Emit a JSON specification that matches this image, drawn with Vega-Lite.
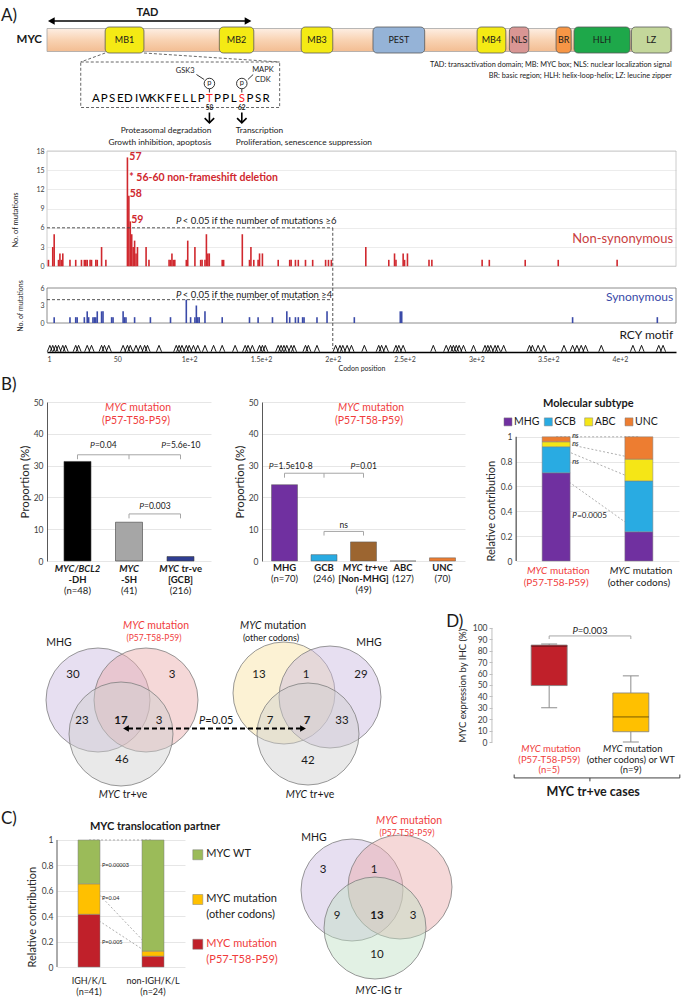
{
"$schema":"https://vega.github.io/schema/vega-lite/v6.json",
"padding":0,
"background":"white",
"spacing":0,
"resolve":{"scale":{"color":"independent"}},
"config":{"font":"Lato","view":{"stroke":null},"axis":{"labelFont":"Lato","titleFont":"Lato","labelColor":"#404040","titleColor":"#262626","labelOverlap":false},"text":{"font":"Lato","color":"#1a1a1a"}},
"data":{"values":[{}]},
"datasets":{
"domains":[{"name":"MB1","start":41.5,"end":68.5},{"name":"MB2","start":121,"end":145},{"name":"MB3","start":178,"end":200},{"name":"PEST","start":228,"end":264},{"name":"MB4","start":300.5,"end":320.5},{"name":"NLS","start":323,"end":336.5},{"name":"BR","start":355.5,"end":366},{"name":"HLH","start":368,"end":407},{"name":"LZ","start":408,"end":435.5}],
"seq":[{"res":44,"aa":"A"},{"res":45,"aa":"P"},{"res":46,"aa":"S"},{"res":47,"aa":"E"},{"res":48,"aa":"D"},{"res":49,"aa":"I"},{"res":50,"aa":"W"},{"res":51,"aa":"K"},{"res":52,"aa":"K"},{"res":53,"aa":"F"},{"res":54,"aa":"E"},{"res":55,"aa":"L"},{"res":56,"aa":"L"},{"res":57,"aa":"P"},{"res":58,"aa":"T"},{"res":59,"aa":"P"},{"res":60,"aa":"P"},{"res":61,"aa":"L"},{"res":62,"aa":"S"},{"res":63,"aa":"P"},{"res":64,"aa":"S"},{"res":65,"aa":"R"}],
"sites":[{"res":58,"effect":"Proteasomal degradation\nGrowth inhibition, apoptosis"},{"res":62,"effect":"Transcription\nProliferation, senescence suppression"}],
"nonsyn":[{"codon":2,"n":1},{"codon":5,"n":3},{"codon":6,"n":5},{"codon":9,"n":1},{"codon":10,"n":2},{"codon":11,"n":1},{"codon":12,"n":2},{"codon":17,"n":1},{"codon":21,"n":1},{"codon":25,"n":1},{"codon":27,"n":1},{"codon":28,"n":1},{"codon":29,"n":1},{"codon":31,"n":1},{"codon":32,"n":1},{"codon":35,"n":1},{"codon":36,"n":1},{"codon":39,"n":3},{"codon":42,"n":1},{"codon":57,"n":17},{"codon":58,"n":11},{"codon":59,"n":7},{"codon":60,"n":5},{"codon":61,"n":3},{"codon":62,"n":4},{"codon":63,"n":2},{"codon":64,"n":3},{"codon":70,"n":3},{"codon":72,"n":1},{"codon":86,"n":1},{"codon":87,"n":1},{"codon":88,"n":2},{"codon":89,"n":1},{"codon":90,"n":1},{"codon":98,"n":1},{"codon":99,"n":4},{"codon":104,"n":3},{"codon":108,"n":1},{"codon":109,"n":1},{"codon":111,"n":1},{"codon":112,"n":5},{"codon":113,"n":2},{"codon":114,"n":2},{"codon":123,"n":1},{"codon":124,"n":1},{"codon":137,"n":5},{"codon":142,"n":1},{"codon":143,"n":3},{"codon":145,"n":1},{"codon":148,"n":1},{"codon":149,"n":2},{"codon":151,"n":2},{"codon":162,"n":1},{"codon":170,"n":1},{"codon":171,"n":1},{"codon":174,"n":1},{"codon":176,"n":1},{"codon":181,"n":1},{"codon":186,"n":1},{"codon":195,"n":1},{"codon":197,"n":1},{"codon":199,"n":1},{"codon":223,"n":3},{"codon":239,"n":1},{"codon":243,"n":2},{"codon":244,"n":1},{"codon":249,"n":2},{"codon":250,"n":1},{"codon":252,"n":2},{"codon":267,"n":1},{"codon":269,"n":1},{"codon":304,"n":1},{"codon":309,"n":1},{"codon":334,"n":1},{"codon":357,"n":1},{"codon":398,"n":1}],
"syn":[{"codon":6,"n":1},{"codon":17,"n":1},{"codon":21,"n":1},{"codon":22,"n":1},{"codon":27,"n":1},{"codon":29,"n":2},{"codon":30,"n":1},{"codon":33,"n":1},{"codon":34,"n":1},{"codon":35,"n":1},{"codon":36,"n":2},{"codon":39,"n":2},{"codon":40,"n":2},{"codon":46,"n":1},{"codon":47,"n":1},{"codon":54,"n":2},{"codon":55,"n":1},{"codon":56,"n":1},{"codon":62,"n":1},{"codon":73,"n":1},{"codon":87,"n":1},{"codon":98,"n":4},{"codon":101,"n":1},{"codon":104,"n":1},{"codon":105,"n":3},{"codon":106,"n":1},{"codon":107,"n":1},{"codon":111,"n":2},{"codon":123,"n":1},{"codon":142,"n":1},{"codon":148,"n":1},{"codon":158,"n":1},{"codon":168,"n":2},{"codon":170,"n":1},{"codon":174,"n":1},{"codon":176,"n":1},{"codon":179,"n":1},{"codon":180,"n":1},{"codon":189,"n":1},{"codon":196,"n":2},{"codon":215,"n":1},{"codon":247,"n":2},{"codon":248,"n":2},{"codon":367,"n":1},{"codon":426,"n":1}],
"rcy":[{"codon":3},{"codon":5},{"codon":7},{"codon":9},{"codon":12},{"codon":14},{"codon":21},{"codon":23},{"codon":29},{"codon":32},{"codon":39},{"codon":41},{"codon":44},{"codon":54},{"codon":57},{"codon":59},{"codon":63},{"codon":66},{"codon":69},{"codon":71},{"codon":79},{"codon":91},{"codon":93},{"codon":95},{"codon":98},{"codon":100},{"codon":103},{"codon":106},{"codon":111},{"codon":117},{"codon":123},{"codon":132},{"codon":139},{"codon":141},{"codon":144},{"codon":149},{"codon":151},{"codon":153},{"codon":162},{"codon":164},{"codon":166},{"codon":168},{"codon":171},{"codon":173},{"codon":181},{"codon":183},{"codon":189},{"codon":202},{"codon":205},{"codon":207},{"codon":210},{"codon":213},{"codon":222},{"codon":232},{"codon":234},{"codon":237},{"codon":244},{"codon":246},{"codon":249},{"codon":270},{"codon":279},{"codon":282},{"codon":284},{"codon":286},{"codon":288},{"codon":291},{"codon":298},{"codon":306},{"codon":308},{"codon":310},{"codon":313},{"codon":315},{"codon":319},{"codon":337},{"codon":339},{"codon":343},{"codon":347},{"codon":361},{"codon":367},{"codon":370},{"codon":373},{"codon":376},{"codon":387},{"codon":409},{"codon":415},{"codon":427},{"codon":430}],
"b1":[{"group":"DH","pct":31.3,"l1":"MYC/BCL2","l2":"-DH","l3":"(n=48)"},{"group":"SH","pct":12.2,"l1":"MYC","l2":"-SH","l3":"(41)"},{"group":"trve","pct":1.4,"l1":"","l2":"[GCB]","l3":"(216)"}],
"b2":[{"group":"MHG","pct":24,"l1":"MHG","l2":"(n=70)","l3":""},{"group":"GCB","pct":2,"l1":"GCB","l2":"(246)","l3":""},{"group":"trpos","pct":6,"l1":"","l2":"[Non-MHG]","l3":"(49)"},{"group":"ABC","pct":0,"l1":"ABC","l2":"(127)","l3":""},{"group":"UNC","pct":1,"l1":"UNC","l2":"(70)","l3":""}],
"subtypes":[{"sub":"MHG"},{"sub":"GCB"},{"sub":"ABC"},{"sub":"UNC"}],
"b3":[{"mut":"P57","sub":"MHG","y0":0,"y1":0.71},{"mut":"P57","sub":"GCB","y0":0.71,"y1":0.92},{"mut":"P57","sub":"ABC","y0":0.92,"y1":0.96},{"mut":"P57","sub":"UNC","y0":0.96,"y1":1},{"mut":"other","sub":"MHG","y0":0,"y1":0.235},{"mut":"other","sub":"GCB","y0":0.235,"y1":0.645},{"mut":"other","sub":"ABC","y0":0.645,"y1":0.82},{"mut":"other","sub":"UNC","y0":0.82,"y1":1}],
"b3conn":[{"from":0.71,"to":0.235},{"from":0.92,"to":0.645},{"from":0.96,"to":0.82},{"from":1,"to":1}],
"muts":[{"mut":"P57","l2":"(P57-T58-P59)"},{"mut":"other","l2":"(other codons)"}],
"vsets":[{"venn":"V1","set":"MHG"},{"venn":"V1","set":"MYC mutation (P57-T58-P59)"},{"venn":"V1","set":"MYC tr+ve"},{"venn":"V2","set":"MYC mutation (other codons)"},{"venn":"V2","set":"MHG"},{"venn":"V2","set":"MYC tr+ve"},{"venn":"V3","set":"MHG"},{"venn":"V3","set":"MYC mutation (P57-T58-P59)"},{"venn":"V3","set":"MYC-IG tr"}],
"vennAB":[{"venn":"V1","region":"MHG only","n":30},{"venn":"V1","region":"mutation only","n":3},{"venn":"V1","region":"MHG & tr+ve","n":23},{"venn":"V1","region":"all three","n":17},{"venn":"V1","region":"mutation & tr+ve","n":3},{"venn":"V1","region":"tr+ve only","n":46},{"venn":"V2","region":"mutation only","n":13},{"venn":"V2","region":"mutation & MHG","n":1},{"venn":"V2","region":"MHG only","n":29},{"venn":"V2","region":"mutation & tr+ve","n":7},{"venn":"V2","region":"all three","n":7},{"venn":"V2","region":"MHG & tr+ve","n":33},{"venn":"V2","region":"tr+ve only","n":42}],
"venn3":[{"region":"MHG only","n":3},{"region":"MHG & mutation","n":1},{"region":"MHG & IG tr","n":9},{"region":"all three","n":13},{"region":"mutation & IG tr","n":3},{"region":"IG tr only","n":10}],
"dbox":[{"grp":"P57","min":30,"q1":49.5,"med":84,"q3":85,"max":86,"l2":"(P57-T58-P59)","l3":"(n=5)"},{"grp":"other","min":0,"q1":9,"med":22,"q3":43,"max":58,"l2":"(other codons) or WT","l3":"(n=9)"}],
"cbars":[{"partner":"IGH","item":"P57","y0":0,"y1":0.415},{"partner":"IGH","item":"other","y0":0.415,"y1":0.655},{"partner":"IGH","item":"WT","y0":0.655,"y1":1},{"partner":"non","item":"P57","y0":0,"y1":0.085},{"partner":"non","item":"other","y0":0.085,"y1":0.125},{"partner":"non","item":"WT","y0":0.125,"y1":1}],
"cconn":[{"from":1,"to":1},{"from":0.655,"to":0.125},{"from":0.415,"to":0.085}],
"cpart":[{"partner":"IGH","l1":"IGH/K/L","l2":"(n=41)"},{"partner":"non","l1":"non-IGH/K/L","l2":"(n=24)"}],
"clegend":[{"item":"WT","label":"MYC WT"},{"item":"other","label":"MYC mutation\n(other codons)"},{"item":"P57","label":"MYC mutation\n(P57-T58-P59)"}]
},
"vconcat":[
{"vconcat":[
{"width":629,"height":151,"resolve":{"scale":{"x":"independent"}},"layer":[
 {"layer":[
  {"mark":{"type":"text","text":"A)","fontSize":17,"align":"left","baseline":"middle"},"encoding":{"x":{"datum":-31,"scale":{"domain":[1,439],"nice":false,"zero":false},"axis":null},"y":{"datum":1.6,"scale":{"domain":[0,15.1],"nice":false,"zero":false,"reverse":true},"axis":null}}},
  {"mark":{"type":"rule","strokeWidth":1.6,"color":"#000"},"encoding":{"x":{"datum":5,"scale":{"domain":[1,439],"nice":false,"zero":false},"axis":null},"x2":{"datum":140},"y":{"datum":2.1,"scale":{"domain":[0,15.1],"nice":false,"zero":false,"reverse":true},"axis":null}}},
  {"mark":{"type":"point","shape":"triangle-left","size":60,"filled":true,"color":"#000","opacity":1},"encoding":{"x":{"datum":4,"scale":{"domain":[1,439],"nice":false,"zero":false},"axis":null},"y":{"datum":2.1,"scale":{"domain":[0,15.1],"nice":false,"zero":false,"reverse":true},"axis":null}}},
  {"mark":{"type":"point","shape":"triangle-right","size":60,"filled":true,"color":"#000","opacity":1},"encoding":{"x":{"datum":141,"scale":{"domain":[1,439],"nice":false,"zero":false},"axis":null},"y":{"datum":2.1,"scale":{"domain":[0,15.1],"nice":false,"zero":false,"reverse":true},"axis":null}}},
  {"mark":{"type":"text","text":"TAD","fontSize":11,"fontWeight":"bold","baseline":"middle"},"encoding":{"x":{"datum":71,"scale":{"domain":[1,439],"nice":false,"zero":false},"axis":null},"y":{"datum":1.25,"scale":{"domain":[0,15.1],"nice":false,"zero":false,"reverse":true},"axis":null}}},
  {"mark":{"type":"rect","stroke":"#a6a6a6","strokeWidth":0.8,"fill":{"gradient":"linear","x1":0,"y1":0,"x2":0,"y2":1,"stops":[{"offset":0,"color":"#fdeee3"},{"offset":0.5,"color":"#f9d3b3"},{"offset":1,"color":"#f3bd92"}]}},"encoding":{"x":{"datum":1,"scale":{"domain":[1,439],"nice":false,"zero":false},"axis":null},"x2":{"datum":436},"y":{"datum":2.85,"scale":{"domain":[0,15.1],"nice":false,"zero":false,"reverse":true},"axis":null},"y2":{"datum":5.15}}},
  {"data":{"name":"domains"},"mark":{"type":"rect","cornerRadius":4,"stroke":"#595959","strokeWidth":0.8},"encoding":{"x":{"field":"start","type":"quantitative","scale":{"domain":[1,439],"nice":false,"zero":false},"axis":null},"x2":{"field":"end"},"y":{"datum":2.7,"scale":{"domain":[0,15.1],"nice":false,"zero":false,"reverse":true},"axis":null},"y2":{"datum":5.3},"color":{"field":"name","type":"nominal","scale":{"domain":["MB1","MB2","MB3","PEST","MB4","NLS","BR","HLH","LZ"],"range":["#f4ea14","#f4ea14","#f4ea14","#95b3d7","#f4ea14","#d99694","#f79646","#1ea84a","#c4d79b"]},"legend":null}}},
  {"data":{"name":"domains"},"transform":[{"fold":["start","end"],"as":["k","v"]},{"aggregate":[{"op":"mean","field":"v","as":"mid"}],"groupby":["name"]}],"mark":{"type":"text","fontSize":9,"baseline":"middle","color":"#1a1a1a"},"encoding":{"x":{"field":"mid","type":"quantitative","scale":{"domain":[1,439],"nice":false,"zero":false},"axis":null},"y":{"datum":4.0,"scale":{"domain":[0,15.1],"nice":false,"zero":false,"reverse":true},"axis":null},"text":{"field":"name"}}},
  {"mark":{"type":"text","text":"MYC","fontSize":11.5,"fontWeight":"bold","align":"right","baseline":"middle"},"encoding":{"x":{"datum":-2.5,"scale":{"domain":[1,439],"nice":false,"zero":false},"axis":null},"y":{"datum":4.0,"scale":{"domain":[0,15.1],"nice":false,"zero":false,"reverse":true},"axis":null}}},
  {"mark":{"type":"text","text":"TAD:  transactivation domain;  MB: MYC box;  NLS: nuclear localization signal","fontSize":7.3,"align":"right","baseline":"middle"},"encoding":{"x":{"datum":436,"scale":{"domain":[1,439],"nice":false,"zero":false},"axis":null},"y":{"datum":6.45,"scale":{"domain":[0,15.1],"nice":false,"zero":false,"reverse":true},"axis":null}}},
  {"mark":{"type":"text","text":"BR: basic region;  HLH: helix-loop-helix;  LZ: leucine zipper","fontSize":7.3,"align":"right","baseline":"middle"},"encoding":{"x":{"datum":436,"scale":{"domain":[1,439],"nice":false,"zero":false},"axis":null},"y":{"datum":7.6,"scale":{"domain":[0,15.1],"nice":false,"zero":false,"reverse":true},"axis":null}}},
  {"mark":{"type":"rule","strokeDash":[3,2],"strokeWidth":0.8,"color":"#404040"},"encoding":{"x":{"datum":41.5,"scale":{"domain":[1,439],"nice":false,"zero":false},"axis":null},"x2":{"datum":24.5},"y":{"datum":5.3,"scale":{"domain":[0,15.1],"nice":false,"zero":false,"reverse":true},"axis":null},"y2":{"datum":6.2}}},
  {"mark":{"type":"rule","strokeDash":[3,2],"strokeWidth":0.8,"color":"#404040"},"encoding":{"x":{"datum":68.5,"scale":{"domain":[1,439],"nice":false,"zero":false},"axis":null},"x2":{"datum":163},"y":{"datum":5.3,"scale":{"domain":[0,15.1],"nice":false,"zero":false,"reverse":true},"axis":null},"y2":{"datum":6.2}}},
  {"mark":{"type":"rect","fillOpacity":0,"stroke":"#404040","strokeDash":[3,2],"strokeWidth":0.8},"encoding":{"x":{"datum":24.5,"scale":{"domain":[1,439],"nice":false,"zero":false},"axis":null},"x2":{"datum":163},"y":{"datum":6.2,"scale":{"domain":[0,15.1],"nice":false,"zero":false,"reverse":true},"axis":null},"y2":{"datum":10.75}}}
 ]},
 {"layer":[
  {"data":{"name":"seq"},"mark":{"type":"text","fontSize":11.5,"baseline":"middle"},"encoding":{"x":{"field":"res","type":"quantitative","scale":{"domain":[37.95,115.6],"nice":false,"zero":false},"axis":null},"y":{"datum":9.9,"scale":{"domain":[0,15.1],"nice":false,"zero":false,"reverse":true},"axis":null},"text":{"field":"aa"},"color":{"condition":{"test":"datum.res==58||datum.res==62","value":"#ff1a1a"},"value":"#000000"}}},
  {"data":{"name":"sites"},"mark":{"type":"point","shape":"circle","size":110,"filled":true,"fill":"white","stroke":"#000","strokeWidth":0.8,"opacity":1},"encoding":{"x":{"field":"res","type":"quantitative","scale":{"domain":[37.95,115.6],"nice":false,"zero":false},"axis":null},"y":{"datum":8.35,"scale":{"domain":[0,15.1],"nice":false,"zero":false,"reverse":true},"axis":null}}},
  {"data":{"name":"sites"},"mark":{"type":"text","text":"p","fontSize":7.5,"baseline":"middle","dy":-0.5},"encoding":{"x":{"field":"res","type":"quantitative","scale":{"domain":[37.95,115.6],"nice":false,"zero":false},"axis":null},"y":{"datum":8.35,"scale":{"domain":[0,15.1],"nice":false,"zero":false,"reverse":true},"axis":null}}},
  {"data":{"name":"sites"},"mark":{"type":"rule","strokeWidth":0.8,"color":"#000"},"encoding":{"x":{"field":"res","type":"quantitative","scale":{"domain":[37.95,115.6],"nice":false,"zero":false},"axis":null},"y":{"datum":8.9,"scale":{"domain":[0,15.1],"nice":false,"zero":false,"reverse":true},"axis":null},"y2":{"datum":9.25}}},
  {"data":{"name":"sites"},"mark":{"type":"text","fontSize":6.5,"fontWeight":"bold","baseline":"middle"},"encoding":{"x":{"field":"res","type":"quantitative","scale":{"domain":[37.95,115.6],"nice":false,"zero":false},"axis":null},"y":{"datum":10.8,"scale":{"domain":[0,15.1],"nice":false,"zero":false,"reverse":true},"axis":null},"text":{"field":"res"}}},
  {"mark":{"type":"text","text":"GSK3","fontSize":7.5,"baseline":"middle"},"encoding":{"x":{"datum":55,"scale":{"domain":[37.95,115.6],"nice":false,"zero":false},"axis":null},"y":{"datum":7.05,"scale":{"domain":[0,15.1],"nice":false,"zero":false,"reverse":true},"axis":null}}},
  {"mark":{"type":"rule","strokeWidth":0.8,"color":"#000"},"encoding":{"x":{"datum":56.4,"scale":{"domain":[37.95,115.6],"nice":false,"zero":false},"axis":null},"x2":{"datum":57.35},"y":{"datum":7.45,"scale":{"domain":[0,15.1],"nice":false,"zero":false,"reverse":true},"axis":null},"y2":{"datum":7.95}}},
  {"mark":{"type":"text","text":"MAPK","fontSize":7.5,"baseline":"middle"},"encoding":{"x":{"datum":64.6,"scale":{"domain":[37.95,115.6],"nice":false,"zero":false},"axis":null},"y":{"datum":7.0,"scale":{"domain":[0,15.1],"nice":false,"zero":false,"reverse":true},"axis":null}}},
  {"mark":{"type":"text","text":"CDK","fontSize":7.5,"baseline":"middle"},"encoding":{"x":{"datum":64.6,"scale":{"domain":[37.95,115.6],"nice":false,"zero":false},"axis":null},"y":{"datum":8.0,"scale":{"domain":[0,15.1],"nice":false,"zero":false,"reverse":true},"axis":null}}},
  {"mark":{"type":"rule","strokeWidth":0.8,"color":"#000"},"encoding":{"x":{"datum":63.4,"scale":{"domain":[37.95,115.6],"nice":false,"zero":false},"axis":null},"x2":{"datum":62.75},"y":{"datum":7.45,"scale":{"domain":[0,15.1],"nice":false,"zero":false,"reverse":true},"axis":null},"y2":{"datum":7.95}}},
  {"data":{"name":"sites"},"mark":{"type":"rule","strokeWidth":1.6,"color":"#000"},"encoding":{"x":{"field":"res","type":"quantitative","scale":{"domain":[37.95,115.6],"nice":false,"zero":false},"axis":null},"y":{"datum":11.25,"scale":{"domain":[0,15.1],"nice":false,"zero":false,"reverse":true},"axis":null},"y2":{"datum":12.3}}},
  {"data":{"name":"sites"},"mark":{"type":"point","shape":"M-1,-0.5L0,0.5L1,-0.5","size":90,"filled":false,"strokeWidth":1.6,"color":"#000","opacity":1},"encoding":{"x":{"field":"res","type":"quantitative","scale":{"domain":[37.95,115.6],"nice":false,"zero":false},"axis":null},"y":{"datum":12.05,"scale":{"domain":[0,15.1],"nice":false,"zero":false,"reverse":true},"axis":null}}},
  {"data":{"name":"sites"},"transform":[{"filter":"datum.res==58"}],"mark":{"type":"text","fontSize":8.3,"align":"right","baseline":"top","lineBreak":"\n","lineHeight":11.5,"dx":2},"encoding":{"x":{"field":"res","type":"quantitative","scale":{"domain":[37.95,115.6],"nice":false,"zero":false},"axis":null},"y":{"datum":12.6,"scale":{"domain":[0,15.1],"nice":false,"zero":false,"reverse":true},"axis":null},"text":{"field":"effect"}}},
  {"data":{"name":"sites"},"transform":[{"filter":"datum.res==62"}],"mark":{"type":"text","fontSize":8.3,"align":"left","baseline":"top","lineBreak":"\n","lineHeight":11.5,"dx":-6},"encoding":{"x":{"field":"res","type":"quantitative","scale":{"domain":[37.95,115.6],"nice":false,"zero":false},"axis":null},"y":{"datum":12.6,"scale":{"domain":[0,15.1],"nice":false,"zero":false,"reverse":true},"axis":null},"text":{"field":"effect"}}}
 ]}
]},
{"width":629,"height":137,"layer":[
 {"mark":{"type":"rect","fillOpacity":0,"stroke":"#bfbfbf","strokeWidth":0.8},"encoding":{"x":{"datum":1,"scale":{"domain":[1,439],"nice":false,"zero":false},"axis":null},"x2":{"datum":439},"y":{"datum":0,"scale":{"domain":[-3.4,18],"nice":false,"zero":false},"axis":{"values":[0,3,6,9,12,15,18],"format":"~g","tickCount":30,"labelOverlap":false,"grid":true,"gridColor":"#ececec","domain":false,"ticks":false,"labelFontSize":7,"labelPadding":3,"title":"No. of mutations","titleFontSize":7.5,"titleFontWeight":"normal","titlePadding":16}},"y2":{"datum":18}}},
 {"data":{"name":"nonsyn"},"mark":{"type":"rule","strokeWidth":1.6,"color":"#d0282e"},"encoding":{"x":{"field":"codon","type":"quantitative","scale":{"domain":[1,439],"nice":false,"zero":false},"axis":null},"y":{"field":"n","type":"quantitative","scale":{"domain":[-3.4,18],"nice":false,"zero":false}},"y2":{"datum":0}}},
 {"mark":{"type":"rule","strokeDash":[3,2],"strokeWidth":0.9,"color":"#404040"},"encoding":{"x":{"datum":1,"scale":{"domain":[1,439],"nice":false,"zero":false},"axis":null},"x2":{"datum":200},"y":{"datum":6,"scale":{"domain":[-3.4,18],"nice":false,"zero":false}}}},
 {"mark":{"type":"rule","strokeDash":[3,2],"strokeWidth":0.9,"color":"#404040"},"encoding":{"x":{"datum":200,"scale":{"domain":[1,439],"nice":false,"zero":false},"axis":null},"y":{"datum":6,"scale":{"domain":[-3.4,18],"nice":false,"zero":false}},"y2":{"datum":-3.4}}},
 {"mark":{"type":"text","text":"P","fontSize":9.5,"fontStyle":"italic","align":"right","baseline":"middle"},"encoding":{"x":{"datum":94.5,"scale":{"domain":[1,439],"nice":false,"zero":false},"axis":null},"y":{"datum":7.0,"scale":{"domain":[-3.4,18],"nice":false,"zero":false}}}},
 {"mark":{"type":"text","text":"< 0.05 if the number of mutations ≥6","fontSize":9.5,"align":"left","baseline":"middle"},"encoding":{"x":{"datum":95.5,"scale":{"domain":[1,439],"nice":false,"zero":false},"axis":null},"y":{"datum":7.0,"scale":{"domain":[-3.4,18],"nice":false,"zero":false}}}},
 {"mark":{"type":"text","text":"57","fontSize":10.5,"fontWeight":"bold","color":"#d0282e","align":"left","baseline":"middle"},"encoding":{"x":{"datum":58.3,"scale":{"domain":[1,439],"nice":false,"zero":false},"axis":null},"y":{"datum":17.1,"scale":{"domain":[-3.4,18],"nice":false,"zero":false}}}},
 {"mark":{"type":"text","text":"* 56-60 non-frameshift deletion","fontSize":10.5,"fontWeight":"bold","color":"#d0282e","align":"left","baseline":"middle"},"encoding":{"x":{"datum":58.3,"scale":{"domain":[1,439],"nice":false,"zero":false},"axis":null},"y":{"datum":13.8,"scale":{"domain":[-3.4,18],"nice":false,"zero":false}}}},
 {"mark":{"type":"text","text":"58","fontSize":10.5,"fontWeight":"bold","color":"#d0282e","align":"left","baseline":"middle"},"encoding":{"x":{"datum":58.6,"scale":{"domain":[1,439],"nice":false,"zero":false},"axis":null},"y":{"datum":11.3,"scale":{"domain":[-3.4,18],"nice":false,"zero":false}}}},
 {"mark":{"type":"text","text":"59","fontSize":10.5,"fontWeight":"bold","color":"#d0282e","align":"left","baseline":"middle"},"encoding":{"x":{"datum":59.6,"scale":{"domain":[1,439],"nice":false,"zero":false},"axis":null},"y":{"datum":7.3,"scale":{"domain":[-3.4,18],"nice":false,"zero":false}}}},
 {"mark":{"type":"text","text":"Non-synonymous","fontSize":13,"color":"#c9413f","align":"right","baseline":"middle"},"encoding":{"x":{"datum":437,"scale":{"domain":[1,439],"nice":false,"zero":false},"axis":null},"y":{"datum":4.2,"scale":{"domain":[-3.4,18],"nice":false,"zero":false}}}}
]},
{"width":629,"height":35,"layer":[
 {"mark":{"type":"rect","fillOpacity":0,"stroke":"#7f7f7f","strokeWidth":0.9},"encoding":{"x":{"datum":1,"scale":{"domain":[1,439],"nice":false,"zero":false},"axis":null},"x2":{"datum":439},"y":{"datum":0,"scale":{"domain":[0,6],"nice":false,"zero":false},"axis":{"values":[0,3,6],"format":"~g","tickCount":30,"labelOverlap":false,"grid":false,"domain":false,"ticks":false,"labelFontSize":7,"labelPadding":3,"title":"No. of mutations","titleFontSize":7,"titleFontWeight":"normal","titlePadding":16}},"y2":{"datum":6}}},
 {"data":{"name":"syn"},"mark":{"type":"rule","strokeWidth":1.6,"color":"#3a4aa8"},"encoding":{"x":{"field":"codon","type":"quantitative","scale":{"domain":[1,439],"nice":false,"zero":false},"axis":null},"y":{"field":"n","type":"quantitative","scale":{"domain":[0,6],"nice":false,"zero":false}},"y2":{"datum":0}}},
 {"mark":{"type":"rule","strokeDash":[3,2],"strokeWidth":0.9,"color":"#404040"},"encoding":{"x":{"datum":1,"scale":{"domain":[1,439],"nice":false,"zero":false},"axis":null},"x2":{"datum":200},"y":{"datum":4,"scale":{"domain":[0,6],"nice":false,"zero":false}}}},
 {"mark":{"type":"rule","strokeDash":[3,2],"strokeWidth":0.9,"color":"#404040"},"encoding":{"x":{"datum":200,"scale":{"domain":[1,439],"nice":false,"zero":false},"axis":null},"y":{"datum":6,"scale":{"domain":[0,6],"nice":false,"zero":false}},"y2":{"datum":0}}},
 {"mark":{"type":"text","text":"P","fontSize":9.5,"fontStyle":"italic","align":"right","baseline":"middle"},"encoding":{"x":{"datum":94.5,"scale":{"domain":[1,439],"nice":false,"zero":false},"axis":null},"y":{"datum":4.85,"scale":{"domain":[0,6],"nice":false,"zero":false}}}},
 {"mark":{"type":"text","text":"< 0.05  if the number of mutation ≥4","fontSize":9.5,"align":"left","baseline":"middle"},"encoding":{"x":{"datum":95.5,"scale":{"domain":[1,439],"nice":false,"zero":false},"axis":null},"y":{"datum":4.85,"scale":{"domain":[0,6],"nice":false,"zero":false}}}},
 {"mark":{"type":"text","text":"Synonymous","fontSize":12,"color":"#3a4aa8","align":"right","baseline":"middle"},"encoding":{"x":{"datum":437,"scale":{"domain":[1,439],"nice":false,"zero":false},"axis":null},"y":{"datum":4.5,"scale":{"domain":[0,6],"nice":false,"zero":false}}}}
]},
{"width":629,"height":29,"layer":[
 {"data":{"name":"rcy"},"mark":{"type":"point","shape":"M-0.8,1L0,-1L0.8,1","size":40,"filled":false,"color":"#000","strokeWidth":0.9,"opacity":1},"encoding":{"x":{"field":"codon","type":"quantitative","scale":{"domain":[1,439],"nice":false,"zero":false},"axis":{"values":[1,50,100,150,200,250,300,350,400],"format":"~g","tickCount":30,"labelOverlap":false,"domain":true,"domainColor":"#000","domainWidth":1.5,"ticks":false,"grid":false,"labelFontSize":7,"labelPadding":3,"title":"Codon position","titleFontSize":7,"titleFontWeight":"normal","titlePadding":2}},"y":{"datum":0.12,"scale":{"domain":[0,1],"nice":false,"zero":false},"axis":null}}},
 {"mark":{"type":"text","text":"RCY motif","fontSize":12,"align":"right","baseline":"middle"},"encoding":{"x":{"datum":437,"scale":{"domain":[1,439],"nice":false,"zero":false}},"y":{"datum":0.6,"scale":{"domain":[0,1],"nice":false,"zero":false},"axis":null}}},
 {"mark":{"type":"rule","strokeDash":[3,2],"strokeWidth":0.9,"color":"#404040"},"encoding":{"x":{"datum":200,"scale":{"domain":[1,439],"nice":false,"zero":false}},"y":{"datum":1,"scale":{"domain":[0,1],"nice":false,"zero":false},"axis":null},"y2":{"datum":0.1}}}
]},
{"width":629,"height":45.5,"mark":{"type":"text","text":"B)","fontSize":17,"align":"left","baseline":"middle"},"encoding":{"x":{"datum":-0.073,"scale":{"domain":[0,1],"nice":false,"zero":false},"axis":null},"y":{"datum":0.275,"scale":{"domain":[0,1],"nice":false,"zero":false},"axis":null}}}
],"spacing":0,"bounds":"flush","resolve":{"scale":{"color":"independent"}}},
{"hconcat":[
  {"width":164,"height":159,"layer":[
   {"mark":{"type":"text","text":"A)","fontSize":17,"align":"left","baseline":"middle","opacity":0,"dx":-76.5},"encoding":{"x":{"datum":"DH","type":"nominal","scale":{"type":"point","padding":0.592,"domain":["DH","SH","trve"]},"axis":null},"y":{"datum":25,"scale":{"domain":[0,50],"nice":false}}}},
   {"data":{"name":"b1"},"mark":{"type":"bar","width":27,"stroke":"#404040","strokeWidth":0.6},"encoding":{"x":{"field":"group","type":"nominal","scale":{"type":"point","padding":0.592,"domain":["DH","SH","trve"]},"axis":null},"y":{"field":"pct","type":"quantitative","scale":{"domain":[0,50],"nice":false},"axis":{"values":[0,10,20,30,40,50],"format":"~g","tickCount":30,"labelOverlap":false,"grid":true,"gridColor":"#e6e6e6","domain":true,"domainColor":"#595959","ticks":false,"labelFontSize":8.5,"labelPadding":4,"title":"Proportion (%)","titleFontSize":11.5,"titleFontWeight":"normal","titlePadding":3}},"color":{"field":"group","type":"nominal","scale":{"domain":["DH","SH","trve"],"range":["#000000","#a6a6a6","#2f3d92"]},"legend":null}}},
   {"mark":{"type":"rule","color":"#a6a6a6"},"encoding":{"x":{"datum":"DH","type":"nominal","scale":{"type":"point","padding":0.592,"domain":["DH","SH","trve"]},"axis":null},"x2":{"datum":"trve"},"y":{"datum":33.4,"scale":{"domain":[0,50],"nice":false}}}},
   {"data":{"name":"b1"},"mark":{"type":"rule","color":"#a6a6a6"},"encoding":{"x":{"field":"group","type":"nominal","scale":{"type":"point","padding":0.592,"domain":["DH","SH","trve"]},"axis":null},"y":{"datum":33.4,"scale":{"domain":[0,50],"nice":false}},"y2":{"datum":32.0}}},
   {"mark":{"type":"rule","color":"#a6a6a6"},"encoding":{"x":{"datum":"SH","type":"nominal","scale":{"type":"point","padding":0.592,"domain":["DH","SH","trve"]},"axis":null},"x2":{"datum":"trve"},"y":{"datum":14.8,"scale":{"domain":[0,50],"nice":false}}}},
   {"data":{"name":"b1"},"transform":[{"filter":"datum.group!='DH'"}],"mark":{"type":"rule","color":"#a6a6a6"},"encoding":{"x":{"field":"group","type":"nominal","scale":{"type":"point","padding":0.592,"domain":["DH","SH","trve"]},"axis":null},"y":{"datum":14.8,"scale":{"domain":[0,50],"nice":false}},"y2":{"datum":13.4}}},
   {"mark":{"type":"text","text":"P","fontSize":8.5,"fontStyle":"italic","align":"right","baseline":"middle","dx":17.4},"encoding":{"x":{"datum":"DH","type":"nominal","scale":{"type":"point","padding":0.592,"domain":["DH","SH","trve"]},"axis":null},"y":{"datum":36.4,"scale":{"domain":[0,50],"nice":false}}}},
   {"mark":{"type":"text","text":"=0.04","fontSize":8.5,"align":"left","baseline":"middle","dx":17.4},"encoding":{"x":{"datum":"DH","type":"nominal","scale":{"type":"point","padding":0.592,"domain":["DH","SH","trve"]},"axis":null},"y":{"datum":36.4,"scale":{"domain":[0,50],"nice":false}}}},
   {"mark":{"type":"text","text":"P","fontSize":8.5,"fontStyle":"italic","align":"right","baseline":"middle","dx":-14.5},"encoding":{"x":{"datum":"trve","type":"nominal","scale":{"type":"point","padding":0.592,"domain":["DH","SH","trve"]},"axis":null},"y":{"datum":36.4,"scale":{"domain":[0,50],"nice":false}}}},
   {"mark":{"type":"text","text":"=5.6e-10","fontSize":8.5,"align":"left","baseline":"middle","dx":-14.5},"encoding":{"x":{"datum":"trve","type":"nominal","scale":{"type":"point","padding":0.592,"domain":["DH","SH","trve"]},"axis":null},"y":{"datum":36.4,"scale":{"domain":[0,50],"nice":false}}}},
   {"mark":{"type":"text","text":"P","fontSize":8.5,"fontStyle":"italic","align":"right","baseline":"middle","dx":15},"encoding":{"x":{"datum":"SH","type":"nominal","scale":{"type":"point","padding":0.592,"domain":["DH","SH","trve"]},"axis":null},"y":{"datum":17.2,"scale":{"domain":[0,50],"nice":false}}}},
   {"mark":{"type":"text","text":"=0.003","fontSize":8.5,"align":"left","baseline":"middle","dx":15},"encoding":{"x":{"datum":"SH","type":"nominal","scale":{"type":"point","padding":0.592,"domain":["DH","SH","trve"]},"axis":null},"y":{"datum":17.2,"scale":{"domain":[0,50],"nice":false}}}},
   {"mark":{"type":"text","text":"MYC","fontSize":10.5,"fontStyle":"italic","color":"#f03c3c","align":"right","baseline":"middle","dx":-2.5},"encoding":{"x":{"datum":"SH","type":"nominal","scale":{"type":"point","padding":0.592,"domain":["DH","SH","trve"]},"axis":null},"y":{"datum":48.2,"scale":{"domain":[0,50],"nice":false}}}},
   {"mark":{"type":"text","text":"mutation","fontSize":10.5,"color":"#f03c3c","align":"left","baseline":"middle","dx":0.3},"encoding":{"x":{"datum":"SH","type":"nominal","scale":{"type":"point","padding":0.592,"domain":["DH","SH","trve"]},"axis":null},"y":{"datum":48.2,"scale":{"domain":[0,50],"nice":false}}}},
   {"mark":{"type":"text","text":"(P57-T58-P59)","fontSize":10.5,"color":"#f03c3c","baseline":"middle","dx":7},"encoding":{"x":{"datum":"SH","type":"nominal","scale":{"type":"point","padding":0.592,"domain":["DH","SH","trve"]},"axis":null},"y":{"datum":44.0,"scale":{"domain":[0,50],"nice":false}}}},
   {"data":{"name":"b1"},"transform":[{"filter":"datum.group!='trve'"}],"mark":{"type":"text","fontSize":9.5,"fontWeight":"bold","fontStyle":"italic","baseline":"middle","dy":7.5},"encoding":{"x":{"field":"group","type":"nominal","scale":{"type":"point","padding":0.592,"domain":["DH","SH","trve"]},"axis":null},"y":{"datum":0,"scale":{"domain":[0,50],"nice":false}},"text":{"field":"l1"}}},
   {"data":{"name":"b1"},"transform":[{"filter":"datum.group=='trve'"}],"mark":{"type":"text","text":"MYC","fontSize":9.5,"fontWeight":"bold","fontStyle":"italic","align":"right","baseline":"middle","dy":7.5,"dx":-1.5},"encoding":{"x":{"field":"group","type":"nominal","scale":{"type":"point","padding":0.592,"domain":["DH","SH","trve"]},"axis":null},"y":{"datum":0,"scale":{"domain":[0,50],"nice":false}}}},
   {"data":{"name":"b1"},"transform":[{"filter":"datum.group=='trve'"}],"mark":{"type":"text","text":"tr-ve","fontSize":9.5,"fontWeight":"bold","align":"left","baseline":"middle","dy":7.5,"dx":1},"encoding":{"x":{"field":"group","type":"nominal","scale":{"type":"point","padding":0.592,"domain":["DH","SH","trve"]},"axis":null},"y":{"datum":0,"scale":{"domain":[0,50],"nice":false}}}},
   {"data":{"name":"b1"},"mark":{"type":"text","fontSize":9.5,"fontWeight":"bold","baseline":"middle","dy":18.5},"encoding":{"x":{"field":"group","type":"nominal","scale":{"type":"point","padding":0.592,"domain":["DH","SH","trve"]},"axis":null},"y":{"datum":0,"scale":{"domain":[0,50],"nice":false}},"text":{"field":"l2"}}},
   {"data":{"name":"b1"},"mark":{"type":"text","fontSize":9.5,"baseline":"middle","dy":29.5},"encoding":{"x":{"field":"group","type":"nominal","scale":{"type":"point","padding":0.592,"domain":["DH","SH","trve"]},"axis":null},"y":{"datum":0,"scale":{"domain":[0,50],"nice":false}},"text":{"field":"l3"}}}
  ]},
  {"width":203,"height":159,"layer":[
   {"data":{"name":"b2"},"mark":{"type":"bar","width":26,"stroke":"#595959","strokeWidth":0.5},"encoding":{"x":{"field":"group","type":"nominal","scale":{"type":"point","padding":0.57,"domain":["MHG","GCB","trpos","ABC","UNC"]},"axis":null},"y":{"field":"pct","type":"quantitative","scale":{"domain":[0,50],"nice":false},"axis":{"values":[0,10,20,30,40,50],"format":"~g","tickCount":30,"labelOverlap":false,"grid":true,"gridColor":"#e6e6e6","domain":true,"domainColor":"#595959","ticks":false,"labelFontSize":8.5,"labelPadding":4,"title":"Proportion (%)","titleFontSize":11.5,"titleFontWeight":"normal","titlePadding":3}},"color":{"field":"group","type":"nominal","scale":{"domain":["MHG","GCB","trpos","ABC","UNC"],"range":["#7030a0","#29abe2","#9c6530","#bfbfbf","#ed7d31"]},"legend":null}}},
   {"mark":{"type":"rule","color":"#a6a6a6"},"encoding":{"x":{"datum":"MHG","type":"nominal","scale":{"type":"point","padding":0.57,"domain":["MHG","GCB","trpos","ABC","UNC"]},"axis":null},"x2":{"datum":"trpos"},"y":{"datum":27.6,"scale":{"domain":[0,50],"nice":false}}}},
   {"data":{"name":"b2"},"transform":[{"filter":"datum.group=='MHG'||datum.group=='GCB'||datum.group=='trpos'"}],"mark":{"type":"rule","color":"#a6a6a6"},"encoding":{"x":{"field":"group","type":"nominal","scale":{"type":"point","padding":0.57,"domain":["MHG","GCB","trpos","ABC","UNC"]},"axis":null},"y":{"datum":27.6,"scale":{"domain":[0,50],"nice":false}},"y2":{"datum":26.2}}},
   {"mark":{"type":"rule","color":"#a6a6a6"},"encoding":{"x":{"datum":"GCB","type":"nominal","scale":{"type":"point","padding":0.57,"domain":["MHG","GCB","trpos","ABC","UNC"]},"axis":null},"x2":{"datum":"trpos"},"y":{"datum":9.3,"scale":{"domain":[0,50],"nice":false}}}},
   {"data":{"name":"b2"},"transform":[{"filter":"datum.group=='GCB'||datum.group=='trpos'"}],"mark":{"type":"rule","color":"#a6a6a6"},"encoding":{"x":{"field":"group","type":"nominal","scale":{"type":"point","padding":0.57,"domain":["MHG","GCB","trpos","ABC","UNC"]},"axis":null},"y":{"datum":9.3,"scale":{"domain":[0,50],"nice":false}},"y2":{"datum":8.0}}},
   {"mark":{"type":"text","text":"P","fontSize":8.5,"fontStyle":"italic","align":"right","baseline":"middle","dx":-11},"encoding":{"x":{"datum":"MHG","type":"nominal","scale":{"type":"point","padding":0.57,"domain":["MHG","GCB","trpos","ABC","UNC"]},"axis":null},"y":{"datum":30.0,"scale":{"domain":[0,50],"nice":false}}}},
   {"mark":{"type":"text","text":"=1.5e10-8","fontSize":8.5,"align":"left","baseline":"middle","dx":-11},"encoding":{"x":{"datum":"MHG","type":"nominal","scale":{"type":"point","padding":0.57,"domain":["MHG","GCB","trpos","ABC","UNC"]},"axis":null},"y":{"datum":30.0,"scale":{"domain":[0,50],"nice":false}}}},
   {"mark":{"type":"text","text":"P","fontSize":8.5,"fontStyle":"italic","align":"right","baseline":"middle","dx":-8.3},"encoding":{"x":{"datum":"trpos","type":"nominal","scale":{"type":"point","padding":0.57,"domain":["MHG","GCB","trpos","ABC","UNC"]},"axis":null},"y":{"datum":30.0,"scale":{"domain":[0,50],"nice":false}}}},
   {"mark":{"type":"text","text":"=0.01","fontSize":8.5,"align":"left","baseline":"middle","dx":-8.3},"encoding":{"x":{"datum":"trpos","type":"nominal","scale":{"type":"point","padding":0.57,"domain":["MHG","GCB","trpos","ABC","UNC"]},"axis":null},"y":{"datum":30.0,"scale":{"domain":[0,50],"nice":false}}}},
   {"mark":{"type":"text","text":"ns","fontSize":8.5,"baseline":"middle","dx":19.75},"encoding":{"x":{"datum":"GCB","type":"nominal","scale":{"type":"point","padding":0.57,"domain":["MHG","GCB","trpos","ABC","UNC"]},"axis":null},"y":{"datum":11.4,"scale":{"domain":[0,50],"nice":false}}}},
   {"mark":{"type":"text","text":"MYC","fontSize":10.5,"fontStyle":"italic","color":"#f03c3c","align":"right","baseline":"middle","dx":-4},"encoding":{"x":{"datum":"trpos","type":"nominal","scale":{"type":"point","padding":0.57,"domain":["MHG","GCB","trpos","ABC","UNC"]},"axis":null},"y":{"datum":48.2,"scale":{"domain":[0,50],"nice":false}}}},
   {"mark":{"type":"text","text":"mutation","fontSize":10.5,"color":"#f03c3c","align":"left","baseline":"middle","dx":-1.2},"encoding":{"x":{"datum":"trpos","type":"nominal","scale":{"type":"point","padding":0.57,"domain":["MHG","GCB","trpos","ABC","UNC"]},"axis":null},"y":{"datum":48.2,"scale":{"domain":[0,50],"nice":false}}}},
   {"mark":{"type":"text","text":"(P57-T58-P59)","fontSize":10.5,"color":"#f03c3c","baseline":"middle","dx":5.5},"encoding":{"x":{"datum":"trpos","type":"nominal","scale":{"type":"point","padding":0.57,"domain":["MHG","GCB","trpos","ABC","UNC"]},"axis":null},"y":{"datum":44.0,"scale":{"domain":[0,50],"nice":false}}}},
   {"data":{"name":"b2"},"transform":[{"filter":"datum.group!='trpos'"}],"mark":{"type":"text","fontSize":9.5,"fontWeight":"bold","baseline":"middle","dy":6.5},"encoding":{"x":{"field":"group","type":"nominal","scale":{"type":"point","padding":0.57,"domain":["MHG","GCB","trpos","ABC","UNC"]},"axis":null},"y":{"datum":0,"scale":{"domain":[0,50],"nice":false}},"text":{"field":"l1"}}},
   {"data":{"name":"b2"},"transform":[{"filter":"datum.group=='trpos'"}],"mark":{"type":"text","text":"MYC","fontSize":9.5,"fontWeight":"bold","fontStyle":"italic","align":"right","baseline":"middle","dy":6.5,"dx":-1},"encoding":{"x":{"field":"group","type":"nominal","scale":{"type":"point","padding":0.57,"domain":["MHG","GCB","trpos","ABC","UNC"]},"axis":null},"y":{"datum":0,"scale":{"domain":[0,50],"nice":false}}}},
   {"data":{"name":"b2"},"transform":[{"filter":"datum.group=='trpos'"}],"mark":{"type":"text","text":"tr+ve","fontSize":9.5,"fontWeight":"bold","align":"left","baseline":"middle","dy":6.5,"dx":1.5},"encoding":{"x":{"field":"group","type":"nominal","scale":{"type":"point","padding":0.57,"domain":["MHG","GCB","trpos","ABC","UNC"]},"axis":null},"y":{"datum":0,"scale":{"domain":[0,50],"nice":false}}}},
   {"data":{"name":"b2"},"transform":[{"filter":"datum.group=='trpos'"}],"mark":{"type":"text","fontSize":9.5,"fontWeight":"bold","baseline":"middle","dy":17.5},"encoding":{"x":{"field":"group","type":"nominal","scale":{"type":"point","padding":0.57,"domain":["MHG","GCB","trpos","ABC","UNC"]},"axis":null},"y":{"datum":0,"scale":{"domain":[0,50],"nice":false}},"text":{"field":"l2"}}},
   {"data":{"name":"b2"},"transform":[{"filter":"datum.group!='trpos'"}],"mark":{"type":"text","fontSize":9.5,"baseline":"middle","dy":17.5},"encoding":{"x":{"field":"group","type":"nominal","scale":{"type":"point","padding":0.57,"domain":["MHG","GCB","trpos","ABC","UNC"]},"axis":null},"y":{"datum":0,"scale":{"domain":[0,50],"nice":false}},"text":{"field":"l2"}}},
   {"data":{"name":"b2"},"mark":{"type":"text","fontSize":9.5,"baseline":"middle","dy":28.5},"encoding":{"x":{"field":"group","type":"nominal","scale":{"type":"point","padding":0.57,"domain":["MHG","GCB","trpos","ABC","UNC"]},"axis":null},"y":{"datum":0,"scale":{"domain":[0,50],"nice":false}},"text":{"field":"l3"}}}
  ]},
  {"width":163,"height":159,"resolve":{"scale":{"x":"independent"}},"layer":[
   {"layer":[
    {"mark":{"type":"text","text":"Molecular subtype","fontSize":11,"fontWeight":"bold","baseline":"middle","dx":11},"encoding":{"x":{"datum":"GCB","type":"nominal","scale":{"type":"point","padding":0.52,"domain":["MHG","GCB","ABC","UNC"]},"axis":null},"y":{"datum":1.262,"scale":{"domain":[0,1.28],"nice":false,"zero":false}}}},
    {"data":{"name":"subtypes"},"mark":{"type":"point","shape":"square","size":64,"filled":true,"opacity":1,"stroke":"#7f7f7f","strokeWidth":0.5,"xOffset":-29},"encoding":{"x":{"field":"sub","type":"nominal","scale":{"type":"point","padding":0.52,"domain":["MHG","GCB","ABC","UNC"]},"axis":null},"y":{"datum":1.12,"scale":{"domain":[0,1.28],"nice":false,"zero":false}},"color":{"field":"sub","type":"nominal","scale":{"domain":["MHG","GCB","ABC","UNC"],"range":["#7030a0","#29abe2","#f5e616","#ed7d31"]},"legend":null}}},
    {"data":{"name":"subtypes"},"mark":{"type":"text","fontSize":10.5,"align":"left","baseline":"middle","dx":-23},"encoding":{"x":{"field":"sub","type":"nominal","scale":{"type":"point","padding":0.52,"domain":["MHG","GCB","ABC","UNC"]},"axis":null},"y":{"datum":1.12,"scale":{"domain":[0,1.28],"nice":false,"zero":false}},"text":{"field":"sub"}}}
   ]},
   {"layer":[
    {"mark":{"type":"rule","color":"#262626","xOffset":-40},"encoding":{"x":{"datum":"P57","type":"nominal","scale":{"type":"point","padding":0.485,"domain":["P57","other"]},"axis":null},"y":{"datum":0,"scale":{"domain":[0,1.28],"nice":false,"zero":false}},"y2":{"datum":1}}},
    {"data":{"name":"b3conn"},"mark":{"type":"rule","strokeDash":[2,2],"color":"#8c8c8c","strokeWidth":0.7},"encoding":{"x":{"datum":"P57","type":"nominal","scale":{"type":"point","padding":0.485,"domain":["P57","other"]},"axis":null},"x2":{"datum":"other"},"y":{"field":"from","type":"quantitative","scale":{"domain":[0,1.28],"nice":false,"zero":false}},"y2":{"field":"to"}}},
    {"data":{"name":"b3"},"mark":{"type":"bar","width":28,"stroke":"#7f7f7f","strokeWidth":0.5},"encoding":{"x":{"field":"mut","type":"nominal","scale":{"type":"point","padding":0.485,"domain":["P57","other"]},"axis":null},"y":{"field":"y0","type":"quantitative","scale":{"domain":[0,1.28],"nice":false,"zero":false},"axis":{"values":[0,0.2,0.4,0.6,0.8,1],"tickCount":30,"labelOverlap":false,"format":"~g","grid":true,"gridColor":"#e6e6e6","domain":false,"ticks":false,"labelFontSize":8.5,"labelPadding":4,"title":"Relative contribution","titleFontSize":11,"titleFontWeight":"normal","titlePadding":4,"titleAnchor":"start"}},"y2":{"field":"y1"},"color":{"field":"sub","type":"nominal","scale":{"domain":["MHG","GCB","ABC","UNC"],"range":["#7030a0","#29abe2","#f5e616","#ed7d31"]},"legend":null}}},
    {"mark":{"type":"text","text":"ns","fontSize":7,"fontStyle":"italic","align":"left","baseline":"middle","dx":16},"encoding":{"x":{"datum":"P57","type":"nominal","scale":{"type":"point","padding":0.485,"domain":["P57","other"]},"axis":null},"y":{"datum":1.003,"scale":{"domain":[0,1.28],"nice":false,"zero":false}}}},
    {"mark":{"type":"text","text":"ns","fontSize":7,"fontStyle":"italic","align":"left","baseline":"middle","dx":16},"encoding":{"x":{"datum":"P57","type":"nominal","scale":{"type":"point","padding":0.485,"domain":["P57","other"]},"axis":null},"y":{"datum":0.94,"scale":{"domain":[0,1.28],"nice":false,"zero":false}}}},
    {"mark":{"type":"text","text":"ns","fontSize":7.5,"fontStyle":"italic","align":"left","baseline":"middle","dx":16},"encoding":{"x":{"datum":"P57","type":"nominal","scale":{"type":"point","padding":0.485,"domain":["P57","other"]},"axis":null},"y":{"datum":0.8,"scale":{"domain":[0,1.28],"nice":false,"zero":false}}}},
    {"mark":{"type":"text","text":"P","fontSize":8,"fontStyle":"italic","align":"left","baseline":"middle","dx":16},"encoding":{"x":{"datum":"P57","type":"nominal","scale":{"type":"point","padding":0.485,"domain":["P57","other"]},"axis":null},"y":{"datum":0.36,"scale":{"domain":[0,1.28],"nice":false,"zero":false}}}},
    {"mark":{"type":"text","text":"=0.0005","fontSize":8,"align":"left","baseline":"middle","dx":21},"encoding":{"x":{"datum":"P57","type":"nominal","scale":{"type":"point","padding":0.485,"domain":["P57","other"]},"axis":null},"y":{"datum":0.36,"scale":{"domain":[0,1.28],"nice":false,"zero":false}}}},
    {"data":{"name":"muts"},"mark":{"type":"text","text":"MYC","fontSize":10,"fontStyle":"italic","align":"right","baseline":"middle","dy":9.5,"dx":-8.8},"encoding":{"x":{"field":"mut","type":"nominal","scale":{"type":"point","padding":0.485,"domain":["P57","other"]},"axis":null},"y":{"datum":0,"scale":{"domain":[0,1.28],"nice":false,"zero":false}},"color":{"condition":{"test":"datum.mut=='P57'","value":"#f03c3c"},"value":"#1a1a1a"}}},
    {"data":{"name":"muts"},"mark":{"type":"text","text":"mutation","fontSize":10,"align":"left","baseline":"middle","dy":9.5,"dx":-6.2},"encoding":{"x":{"field":"mut","type":"nominal","scale":{"type":"point","padding":0.485,"domain":["P57","other"]},"axis":null},"y":{"datum":0,"scale":{"domain":[0,1.28],"nice":false,"zero":false}},"color":{"condition":{"test":"datum.mut=='P57'","value":"#f03c3c"},"value":"#1a1a1a"}}},
    {"data":{"name":"muts"},"mark":{"type":"text","fontSize":10,"baseline":"middle","dy":21.5},"encoding":{"x":{"field":"mut","type":"nominal","scale":{"type":"point","padding":0.485,"domain":["P57","other"]},"axis":null},"y":{"datum":0,"scale":{"domain":[0,1.28],"nice":false,"zero":false}},"text":{"field":"l2"},"color":{"condition":{"test":"datum.mut=='P57'","value":"#f03c3c"},"value":"#1a1a1a"}}}
   ]}
  ]}
],"spacing":51,"bounds":"flush","resolve":{"scale":{"color":"independent"}}},
{"hconcat":[
 {"width":400,"height":212,"layer":[
  {"mark":{"type":"text","text":"A)","fontSize":17,"align":"left","baseline":"middle","opacity":0},"encoding":{"x":{"datum":-4.6,"scale":{"domain":[0,40],"nice":false,"zero":false},"axis":null},"y":{"datum":10,"scale":{"domain":[0,21.2],"nice":false,"zero":false,"reverse":true},"axis":null}}},
  {"data":{"name":"vsets"},"transform":[{"filter":"datum.venn=='V1' && datum.set=='MHG'"}],"mark":{"type":"point","shape":"circle","size":10816,"filled":true,"fill":"#c9b8e0","fillOpacity":0.45,"stroke":"#7f7f7f","strokeWidth":0.8,"opacity":1},"encoding":{"x":{"datum":5.1,"scale":{"domain":[0,40],"nice":false,"zero":false},"axis":null},"y":{"datum":10.5,"scale":{"domain":[0,21.2],"nice":false,"zero":false,"reverse":true},"axis":null}}},
  {"data":{"name":"vsets"},"transform":[{"filter":"datum.venn=='V1' && datum.set=='MYC mutation (P57-T58-P59)'"}],"mark":{"type":"point","shape":"circle","size":10816,"filled":true,"fill":"#e8a9a9","fillOpacity":0.45,"stroke":"#7f7f7f","strokeWidth":0.8,"opacity":1},"encoding":{"x":{"datum":9.9,"scale":{"domain":[0,40],"nice":false,"zero":false},"axis":null},"y":{"datum":10.5,"scale":{"domain":[0,21.2],"nice":false,"zero":false,"reverse":true},"axis":null}}},
  {"data":{"name":"vsets"},"transform":[{"filter":"datum.venn=='V1' && datum.set=='MYC tr+ve'"}],"mark":{"type":"point","shape":"circle","size":10816,"filled":true,"fill":"#cfcfcf","fillOpacity":0.45,"stroke":"#7f7f7f","strokeWidth":0.8,"opacity":1},"encoding":{"x":{"datum":7.4,"scale":{"domain":[0,40],"nice":false,"zero":false},"axis":null},"y":{"datum":13.9,"scale":{"domain":[0,21.2],"nice":false,"zero":false,"reverse":true},"axis":null}}},
  {"data":{"name":"vsets"},"transform":[{"filter":"datum.venn=='V2' && datum.set=='MYC mutation (other codons)'"}],"mark":{"type":"point","shape":"circle","size":10404,"filled":true,"fill":"#f9e2a0","fillOpacity":0.45,"stroke":"#7f7f7f","strokeWidth":0.8,"opacity":1},"encoding":{"x":{"datum":23.7,"scale":{"domain":[0,40],"nice":false,"zero":false},"axis":null},"y":{"datum":9.8,"scale":{"domain":[0,21.2],"nice":false,"zero":false,"reverse":true},"axis":null}}},
  {"data":{"name":"vsets"},"transform":[{"filter":"datum.venn=='V2' && datum.set=='MHG'"}],"mark":{"type":"point","shape":"circle","size":10404,"filled":true,"fill":"#c9b8e0","fillOpacity":0.45,"stroke":"#7f7f7f","strokeWidth":0.8,"opacity":1},"encoding":{"x":{"datum":28.3,"scale":{"domain":[0,40],"nice":false,"zero":false},"axis":null},"y":{"datum":10.2,"scale":{"domain":[0,21.2],"nice":false,"zero":false,"reverse":true},"axis":null}}},
  {"data":{"name":"vsets"},"transform":[{"filter":"datum.venn=='V2' && datum.set=='MYC tr+ve'"}],"mark":{"type":"point","shape":"circle","size":10404,"filled":true,"fill":"#cfcfcf","fillOpacity":0.45,"stroke":"#7f7f7f","strokeWidth":0.8,"opacity":1},"encoding":{"x":{"datum":26.1,"scale":{"domain":[0,40],"nice":false,"zero":false},"axis":null},"y":{"datum":13.9,"scale":{"domain":[0,21.2],"nice":false,"zero":false,"reverse":true},"axis":null}}},
  {"data":{"name":"vennAB"},"transform":[{"filter":"datum.venn=='V1' && datum.region=='MHG only'"}],"mark":{"type":"text","fontSize":11.5,"baseline":"middle"},"encoding":{"x":{"datum":2.6,"scale":{"domain":[0,40],"nice":false,"zero":false},"axis":null},"y":{"datum":8.0,"scale":{"domain":[0,21.2],"nice":false,"zero":false,"reverse":true},"axis":null},"text":{"field":"n"}}},
  {"data":{"name":"vennAB"},"transform":[{"filter":"datum.venn=='V1' && datum.region=='mutation only'"}],"mark":{"type":"text","fontSize":11.5,"baseline":"middle"},"encoding":{"x":{"datum":12.5,"scale":{"domain":[0,40],"nice":false,"zero":false},"axis":null},"y":{"datum":8.0,"scale":{"domain":[0,21.2],"nice":false,"zero":false,"reverse":true},"axis":null},"text":{"field":"n"}}},
  {"data":{"name":"vennAB"},"transform":[{"filter":"datum.venn=='V1' && datum.region=='MHG & tr+ve'"}],"mark":{"type":"text","fontSize":11.5,"baseline":"middle"},"encoding":{"x":{"datum":3.5,"scale":{"domain":[0,40],"nice":false,"zero":false},"axis":null},"y":{"datum":12.6,"scale":{"domain":[0,21.2],"nice":false,"zero":false,"reverse":true},"axis":null},"text":{"field":"n"}}},
  {"data":{"name":"vennAB"},"transform":[{"filter":"datum.venn=='V1' && datum.region=='all three'"}],"mark":{"type":"text","fontSize":11.5,"fontWeight":"bold","baseline":"middle"},"encoding":{"x":{"datum":7.4,"scale":{"domain":[0,40],"nice":false,"zero":false},"axis":null},"y":{"datum":12.6,"scale":{"domain":[0,21.2],"nice":false,"zero":false,"reverse":true},"axis":null},"text":{"field":"n"}}},
  {"data":{"name":"vennAB"},"transform":[{"filter":"datum.venn=='V1' && datum.region=='mutation & tr+ve'"}],"mark":{"type":"text","fontSize":11.5,"baseline":"middle"},"encoding":{"x":{"datum":11.2,"scale":{"domain":[0,40],"nice":false,"zero":false},"axis":null},"y":{"datum":12.6,"scale":{"domain":[0,21.2],"nice":false,"zero":false,"reverse":true},"axis":null},"text":{"field":"n"}}},
  {"data":{"name":"vennAB"},"transform":[{"filter":"datum.venn=='V1' && datum.region=='tr+ve only'"}],"mark":{"type":"text","fontSize":11.5,"baseline":"middle"},"encoding":{"x":{"datum":7.5,"scale":{"domain":[0,40],"nice":false,"zero":false},"axis":null},"y":{"datum":16.5,"scale":{"domain":[0,21.2],"nice":false,"zero":false,"reverse":true},"axis":null},"text":{"field":"n"}}},
  {"data":{"name":"vennAB"},"transform":[{"filter":"datum.venn=='V2' && datum.region=='mutation only'"}],"mark":{"type":"text","fontSize":11.5,"baseline":"middle"},"encoding":{"x":{"datum":21.2,"scale":{"domain":[0,40],"nice":false,"zero":false},"axis":null},"y":{"datum":8.0,"scale":{"domain":[0,21.2],"nice":false,"zero":false,"reverse":true},"axis":null},"text":{"field":"n"}}},
  {"data":{"name":"vennAB"},"transform":[{"filter":"datum.venn=='V2' && datum.region=='mutation & MHG'"}],"mark":{"type":"text","fontSize":11.5,"baseline":"middle"},"encoding":{"x":{"datum":25.9,"scale":{"domain":[0,40],"nice":false,"zero":false},"axis":null},"y":{"datum":8.0,"scale":{"domain":[0,21.2],"nice":false,"zero":false,"reverse":true},"axis":null},"text":{"field":"n"}}},
  {"data":{"name":"vennAB"},"transform":[{"filter":"datum.venn=='V2' && datum.region=='MHG only'"}],"mark":{"type":"text","fontSize":11.5,"baseline":"middle"},"encoding":{"x":{"datum":31.4,"scale":{"domain":[0,40],"nice":false,"zero":false},"axis":null},"y":{"datum":8.0,"scale":{"domain":[0,21.2],"nice":false,"zero":false,"reverse":true},"axis":null},"text":{"field":"n"}}},
  {"data":{"name":"vennAB"},"transform":[{"filter":"datum.venn=='V2' && datum.region=='mutation & tr+ve'"}],"mark":{"type":"text","fontSize":11.5,"baseline":"middle"},"encoding":{"x":{"datum":22.3,"scale":{"domain":[0,40],"nice":false,"zero":false},"axis":null},"y":{"datum":12.6,"scale":{"domain":[0,21.2],"nice":false,"zero":false,"reverse":true},"axis":null},"text":{"field":"n"}}},
  {"data":{"name":"vennAB"},"transform":[{"filter":"datum.venn=='V2' && datum.region=='all three'"}],"mark":{"type":"text","fontSize":11.5,"fontWeight":"bold","baseline":"middle"},"encoding":{"x":{"datum":26.0,"scale":{"domain":[0,40],"nice":false,"zero":false},"axis":null},"y":{"datum":12.6,"scale":{"domain":[0,21.2],"nice":false,"zero":false,"reverse":true},"axis":null},"text":{"field":"n"}}},
  {"data":{"name":"vennAB"},"transform":[{"filter":"datum.venn=='V2' && datum.region=='MHG & tr+ve'"}],"mark":{"type":"text","fontSize":11.5,"baseline":"middle"},"encoding":{"x":{"datum":29.5,"scale":{"domain":[0,40],"nice":false,"zero":false},"axis":null},"y":{"datum":12.6,"scale":{"domain":[0,21.2],"nice":false,"zero":false,"reverse":true},"axis":null},"text":{"field":"n"}}},
  {"data":{"name":"vennAB"},"transform":[{"filter":"datum.venn=='V2' && datum.region=='tr+ve only'"}],"mark":{"type":"text","fontSize":11.5,"baseline":"middle"},"encoding":{"x":{"datum":26.1,"scale":{"domain":[0,40],"nice":false,"zero":false},"axis":null},"y":{"datum":16.6,"scale":{"domain":[0,21.2],"nice":false,"zero":false,"reverse":true},"axis":null},"text":{"field":"n"}}},
  {"mark":{"type":"text","text":"MHG","fontSize":10.5,"baseline":"middle"},"encoding":{"x":{"datum":1.2,"scale":{"domain":[0,40],"nice":false,"zero":false},"axis":null},"y":{"datum":4.8,"scale":{"domain":[0,21.2],"nice":false,"zero":false,"reverse":true},"axis":null}}},
  {"mark":{"type":"text","text":"MYC","fontSize":10.5,"fontStyle":"italic","color":"#f03c3c","align":"right","baseline":"middle","dx":-9.5},"encoding":{"x":{"datum":10.7,"scale":{"domain":[0,40],"nice":false,"zero":false},"axis":null},"y":{"datum":3.1,"scale":{"domain":[0,21.2],"nice":false,"zero":false,"reverse":true},"axis":null}}},
  {"mark":{"type":"text","text":"mutation","fontSize":10.5,"color":"#f03c3c","align":"left","baseline":"middle","dx":-6.7},"encoding":{"x":{"datum":10.7,"scale":{"domain":[0,40],"nice":false,"zero":false},"axis":null},"y":{"datum":3.1,"scale":{"domain":[0,21.2],"nice":false,"zero":false,"reverse":true},"axis":null}}},
  {"mark":{"type":"text","text":"(P57-T58-P59)","fontSize":8.5,"color":"#f03c3c","baseline":"middle"},"encoding":{"x":{"datum":10.7,"scale":{"domain":[0,40],"nice":false,"zero":false},"axis":null},"y":{"datum":4.3,"scale":{"domain":[0,21.2],"nice":false,"zero":false,"reverse":true},"axis":null}}},
  {"mark":{"type":"text","text":"MYC","fontSize":10.5,"fontStyle":"italic","align":"right","baseline":"middle","dx":-1.9},"encoding":{"x":{"datum":7.5,"scale":{"domain":[0,40],"nice":false,"zero":false},"axis":null},"y":{"datum":20.0,"scale":{"domain":[0,21.2],"nice":false,"zero":false,"reverse":true},"axis":null}}},
  {"mark":{"type":"text","text":"tr+ve","fontSize":10.5,"align":"left","baseline":"middle","dx":0.8},"encoding":{"x":{"datum":7.5,"scale":{"domain":[0,40],"nice":false,"zero":false},"axis":null},"y":{"datum":20.0,"scale":{"domain":[0,21.2],"nice":false,"zero":false,"reverse":true},"axis":null}}},
  {"mark":{"type":"text","text":"MYC","fontSize":10.5,"fontStyle":"italic","align":"right","baseline":"middle","dx":-9.5},"encoding":{"x":{"datum":22.4,"scale":{"domain":[0,40],"nice":false,"zero":false},"axis":null},"y":{"datum":3.1,"scale":{"domain":[0,21.2],"nice":false,"zero":false,"reverse":true},"axis":null}}},
  {"mark":{"type":"text","text":"mutation","fontSize":10.5,"align":"left","baseline":"middle","dx":-6.7},"encoding":{"x":{"datum":22.4,"scale":{"domain":[0,40],"nice":false,"zero":false},"axis":null},"y":{"datum":3.1,"scale":{"domain":[0,21.2],"nice":false,"zero":false,"reverse":true},"axis":null}}},
  {"mark":{"type":"text","text":"(other codons)","fontSize":9,"baseline":"middle"},"encoding":{"x":{"datum":22.4,"scale":{"domain":[0,40],"nice":false,"zero":false},"axis":null},"y":{"datum":4.3,"scale":{"domain":[0,21.2],"nice":false,"zero":false,"reverse":true},"axis":null}}},
  {"mark":{"type":"text","text":"MHG","fontSize":10.5,"baseline":"middle"},"encoding":{"x":{"datum":32.2,"scale":{"domain":[0,40],"nice":false,"zero":false},"axis":null},"y":{"datum":4.8,"scale":{"domain":[0,21.2],"nice":false,"zero":false,"reverse":true},"axis":null}}},
  {"mark":{"type":"text","text":"MYC","fontSize":10.5,"fontStyle":"italic","align":"right","baseline":"middle","dx":-1.9},"encoding":{"x":{"datum":26.2,"scale":{"domain":[0,40],"nice":false,"zero":false},"axis":null},"y":{"datum":20.0,"scale":{"domain":[0,21.2],"nice":false,"zero":false,"reverse":true},"axis":null}}},
  {"mark":{"type":"text","text":"tr+ve","fontSize":10.5,"align":"left","baseline":"middle","dx":0.8},"encoding":{"x":{"datum":26.2,"scale":{"domain":[0,40],"nice":false,"zero":false},"axis":null},"y":{"datum":20.0,"scale":{"domain":[0,21.2],"nice":false,"zero":false,"reverse":true},"axis":null}}},
  {"mark":{"type":"rule","strokeDash":[5,3],"strokeWidth":1.8,"color":"#000"},"encoding":{"x":{"datum":8.1,"scale":{"domain":[0,40],"nice":false,"zero":false},"axis":null},"x2":{"datum":25.4},"y":{"datum":13.35,"scale":{"domain":[0,21.2],"nice":false,"zero":false,"reverse":true},"axis":null}}},
  {"mark":{"type":"point","shape":"triangle-left","size":45,"filled":true,"color":"#000","opacity":1},"encoding":{"x":{"datum":7.9,"scale":{"domain":[0,40],"nice":false,"zero":false},"axis":null},"y":{"datum":13.35,"scale":{"domain":[0,21.2],"nice":false,"zero":false,"reverse":true},"axis":null}}},
  {"mark":{"type":"point","shape":"triangle-right","size":45,"filled":true,"color":"#000","opacity":1},"encoding":{"x":{"datum":25.6,"scale":{"domain":[0,40],"nice":false,"zero":false},"axis":null},"y":{"datum":13.35,"scale":{"domain":[0,21.2],"nice":false,"zero":false,"reverse":true},"axis":null}}},
  {"mark":{"type":"text","text":"P","fontSize":11,"fontStyle":"italic","align":"right","baseline":"middle","dx":-10.7},"encoding":{"x":{"datum":16.9,"scale":{"domain":[0,40],"nice":false,"zero":false},"axis":null},"y":{"datum":12.6,"scale":{"domain":[0,21.2],"nice":false,"zero":false,"reverse":true},"axis":null}}},
  {"mark":{"type":"text","text":"=0.05","fontSize":11,"align":"left","baseline":"middle","dx":-10.7},"encoding":{"x":{"datum":16.9,"scale":{"domain":[0,40],"nice":false,"zero":false},"axis":null},"y":{"datum":12.6,"scale":{"domain":[0,21.2],"nice":false,"zero":false,"reverse":true},"axis":null}}}
 ]},
 {"width":196,"height":147,"layer":[
  {"mark":{"type":"text","text":"D)","fontSize":17,"align":"left","baseline":"middle","dx":-103},"encoding":{"x":{"datum":"P57","type":"nominal","scale":{"type":"point","padding":0.7,"domain":["P57","other"]},"axis":null},"y":{"datum":105.2,"scale":{"domain":[0,128.9],"nice":false}}}},
  {"mark":{"type":"rule","color":"#bfbfbf","xOffset":-57.2},"encoding":{"x":{"datum":"P57","type":"nominal","scale":{"type":"point","padding":0.7,"domain":["P57","other"]},"axis":null},"y":{"datum":0,"scale":{"domain":[0,128.9],"nice":false}},"y2":{"datum":100}}},
  {"data":{"name":"dbox"},"mark":{"type":"rule","color":"#8c8c8c","strokeWidth":1},"encoding":{"x":{"field":"grp","type":"nominal","scale":{"type":"point","padding":0.7,"domain":["P57","other"]},"axis":null},"y":{"field":"min","type":"quantitative","scale":{"domain":[0,128.9],"nice":false}},"y2":{"field":"q1"}}},
  {"data":{"name":"dbox"},"mark":{"type":"rule","color":"#8c8c8c","strokeWidth":1},"encoding":{"x":{"field":"grp","type":"nominal","scale":{"type":"point","padding":0.7,"domain":["P57","other"]},"axis":null},"y":{"field":"q3","type":"quantitative","scale":{"domain":[0,128.9],"nice":false}},"y2":{"field":"max"}}},
  {"data":{"name":"dbox"},"mark":{"type":"tick","size":16,"thickness":1,"color":"#8c8c8c","opacity":1},"encoding":{"x":{"field":"grp","type":"nominal","scale":{"type":"point","padding":0.7,"domain":["P57","other"]},"axis":null},"y":{"field":"min","type":"quantitative","scale":{"domain":[0,128.9],"nice":false}}}},
  {"data":{"name":"dbox"},"mark":{"type":"tick","size":16,"thickness":1,"color":"#8c8c8c","opacity":1},"encoding":{"x":{"field":"grp","type":"nominal","scale":{"type":"point","padding":0.7,"domain":["P57","other"]},"axis":null},"y":{"field":"max","type":"quantitative","scale":{"domain":[0,128.9],"nice":false}}}},
  {"data":{"name":"dbox"},"mark":{"type":"bar","width":36,"stroke":"#7f7f7f","strokeWidth":0.8},"encoding":{"x":{"field":"grp","type":"nominal","scale":{"type":"point","padding":0.7,"domain":["P57","other"]},"axis":null},"y":{"field":"q1","type":"quantitative","scale":{"domain":[0,128.9],"nice":false},"axis":{"values":[0,10,20,30,40,50,60,70,80,90,100],"format":"~g","tickCount":30,"labelOverlap":false,"grid":false,"domain":false,"ticks":true,"tickColor":"#bfbfbf","tickSize":3,"labelFontSize":8.5,"labelPadding":2,"title":"MYC expression by IHC (%)","titleFontSize":9.5,"titleFontWeight":"normal","titlePadding":5,"titleAnchor":"start"}},"y2":{"field":"q3"},"color":{"field":"grp","type":"nominal","scale":{"domain":["P57","other"],"range":["#c0202a","#ffc000"]},"legend":null}}},
  {"data":{"name":"dbox"},"mark":{"type":"tick","size":36,"thickness":1.6,"color":"#000","opacity":0.3},"encoding":{"x":{"field":"grp","type":"nominal","scale":{"type":"point","padding":0.7,"domain":["P57","other"]},"axis":null},"y":{"field":"med","type":"quantitative","scale":{"domain":[0,128.9],"nice":false}}}},
  {"mark":{"type":"rule","color":"#a6a6a6"},"encoding":{"x":{"datum":"P57","type":"nominal","scale":{"type":"point","padding":0.7,"domain":["P57","other"]},"axis":null},"x2":{"datum":"other"},"y":{"datum":93,"scale":{"domain":[0,128.9],"nice":false}}}},
  {"data":{"name":"dbox"},"mark":{"type":"rule","color":"#a6a6a6"},"encoding":{"x":{"field":"grp","type":"nominal","scale":{"type":"point","padding":0.7,"domain":["P57","other"]},"axis":null},"y":{"datum":93,"scale":{"domain":[0,128.9],"nice":false}},"y2":{"datum":90.3}}},
  {"mark":{"type":"text","text":"P","fontSize":9.5,"fontStyle":"italic","align":"right","baseline":"middle","dx":28.6},"encoding":{"x":{"datum":"P57","type":"nominal","scale":{"type":"point","padding":0.7,"domain":["P57","other"]},"axis":null},"y":{"datum":97,"scale":{"domain":[0,128.9],"nice":false}}}},
  {"mark":{"type":"text","text":"=0.003","fontSize":9.5,"align":"left","baseline":"middle","dx":28.6},"encoding":{"x":{"datum":"P57","type":"nominal","scale":{"type":"point","padding":0.7,"domain":["P57","other"]},"axis":null},"y":{"datum":97,"scale":{"domain":[0,128.9],"nice":false}}}},
  {"data":{"name":"dbox"},"mark":{"type":"text","text":"MYC","fontSize":9.5,"fontStyle":"italic","align":"right","baseline":"middle","dy":7,"dx":-8.5},"encoding":{"x":{"field":"grp","type":"nominal","scale":{"type":"point","padding":0.7,"domain":["P57","other"]},"axis":null},"y":{"datum":0,"scale":{"domain":[0,128.9],"nice":false}},"color":{"condition":{"test":"datum.grp=='P57'","value":"#f03c3c"},"value":"#1a1a1a"}}},
  {"data":{"name":"dbox"},"mark":{"type":"text","text":"mutation","fontSize":9.5,"align":"left","baseline":"middle","dy":7,"dx":-6.1},"encoding":{"x":{"field":"grp","type":"nominal","scale":{"type":"point","padding":0.7,"domain":["P57","other"]},"axis":null},"y":{"datum":0,"scale":{"domain":[0,128.9],"nice":false}},"color":{"condition":{"test":"datum.grp=='P57'","value":"#f03c3c"},"value":"#1a1a1a"}}},
  {"data":{"name":"dbox"},"mark":{"type":"text","fontSize":9.5,"baseline":"middle","dy":17.5},"encoding":{"x":{"field":"grp","type":"nominal","scale":{"type":"point","padding":0.7,"domain":["P57","other"]},"axis":null},"y":{"datum":0,"scale":{"domain":[0,128.9],"nice":false}},"text":{"field":"l2"},"color":{"condition":{"test":"datum.grp=='P57'","value":"#f03c3c"},"value":"#1a1a1a"}}},
  {"data":{"name":"dbox"},"mark":{"type":"text","fontSize":9.5,"baseline":"middle","dy":28},"encoding":{"x":{"field":"grp","type":"nominal","scale":{"type":"point","padding":0.7,"domain":["P57","other"]},"axis":null},"y":{"datum":0,"scale":{"domain":[0,128.9],"nice":false}},"text":{"field":"l3"},"color":{"condition":{"test":"datum.grp=='P57'","value":"#f03c3c"},"value":"#1a1a1a"}}},
  {"mark":{"type":"rule","color":"#404040","xOffset":-35,"x2Offset":49},"encoding":{"x":{"datum":"P57","type":"nominal","scale":{"type":"point","padding":0.7,"domain":["P57","other"]},"axis":null},"x2":{"datum":"other"},"y":{"datum":-31.5,"scale":{"domain":[0,128.9],"nice":false}}}},
  {"mark":{"type":"rule","color":"#404040","xOffset":-35},"encoding":{"x":{"datum":"P57","type":"nominal","scale":{"type":"point","padding":0.7,"domain":["P57","other"]},"axis":null},"y":{"datum":-31.5,"scale":{"domain":[0,128.9],"nice":false}},"y2":{"datum":-28.5}}},
  {"mark":{"type":"rule","color":"#404040","xOffset":49},"encoding":{"x":{"datum":"other","type":"nominal","scale":{"type":"point","padding":0.7,"domain":["P57","other"]},"axis":null},"y":{"datum":-31.5,"scale":{"domain":[0,128.9],"nice":false}},"y2":{"datum":-28.5}}},
  {"mark":{"type":"rule","color":"#404040","xOffset":40.75},"encoding":{"x":{"datum":"P57","type":"nominal","scale":{"type":"point","padding":0.7,"domain":["P57","other"]},"axis":null},"y":{"datum":-31.5,"scale":{"domain":[0,128.9],"nice":false}},"y2":{"datum":-34.5}}},
  {"mark":{"type":"text","text":"MYC tr+ve cases","fontSize":12.5,"fontWeight":"bold","baseline":"middle","dx":44},"encoding":{"x":{"datum":"P57","type":"nominal","scale":{"type":"point","padding":0.7,"domain":["P57","other"]},"axis":null},"y":{"datum":-44,"scale":{"domain":[0,128.9],"nice":false}}}}
 ]}
],"spacing":45,"bounds":"flush","resolve":{"scale":{"color":"independent"}}},
{"hconcat":[
 {"width":1,"height":1,"mark":{"type":"point","opacity":0},"encoding":{}},
 {"width":128,"height":157,"layer":[
  {"mark":{"type":"text","text":"C)","fontSize":17,"align":"left","baseline":"middle","dx":-88},"encoding":{"x":{"datum":"IGH","type":"nominal","scale":{"type":"point","padding":0.5,"domain":["IGH","non"]},"axis":null},"y":{"datum":1.165,"scale":{"domain":[0,1.236],"nice":false}}}},
  {"mark":{"type":"text","text":"MYC translocation partner","fontSize":11,"fontWeight":"bold","baseline":"middle","dx":66},"encoding":{"x":{"datum":"IGH","type":"nominal","scale":{"type":"point","padding":0.5,"domain":["IGH","non"]},"axis":null},"y":{"datum":1.102,"scale":{"domain":[0,1.236],"nice":false}}}},
  {"mark":{"type":"rule","color":"#595959","xOffset":-32},"encoding":{"x":{"datum":"IGH","type":"nominal","scale":{"type":"point","padding":0.5,"domain":["IGH","non"]},"axis":null},"y":{"datum":0,"scale":{"domain":[0,1.236],"nice":false}},"y2":{"datum":1}}},
  {"data":{"name":"cconn"},"mark":{"type":"rule","strokeDash":[2,2],"color":"#8c8c8c","strokeWidth":0.7},"encoding":{"x":{"datum":"IGH","type":"nominal","scale":{"type":"point","padding":0.5,"domain":["IGH","non"]},"axis":null},"x2":{"datum":"non"},"y":{"field":"from","type":"quantitative","scale":{"domain":[0,1.236],"nice":false}},"y2":{"field":"to"}}},
  {"data":{"name":"cbars"},"mark":{"type":"bar","width":22,"stroke":"#7f7f7f","strokeWidth":0.5},"encoding":{"x":{"field":"partner","type":"nominal","scale":{"type":"point","padding":0.5,"domain":["IGH","non"]},"axis":null},"y":{"field":"y0","type":"quantitative","scale":{"domain":[0,1.236],"nice":false},"axis":{"values":[0,0.2,0.4,0.6,0.8,1],"tickCount":30,"labelOverlap":false,"format":"~g","grid":true,"gridColor":"#e6e6e6","domain":false,"ticks":false,"labelFontSize":8.5,"labelPadding":4,"title":"Relative contribution","titleFontSize":11,"titleFontWeight":"normal","titlePadding":4,"titleAnchor":"start"}},"y2":{"field":"y1"},"color":{"field":"item","type":"nominal","scale":{"domain":["WT","other","P57"],"range":["#9bbb59","#ffc000","#c0202a"]},"legend":null}}},
  {"mark":{"type":"text","text":"P=0.00003","fontSize":5.5,"align":"left","baseline":"middle","dx":13},"encoding":{"x":{"datum":"IGH","type":"nominal","scale":{"type":"point","padding":0.5,"domain":["IGH","non"]},"axis":null},"y":{"datum":0.8,"scale":{"domain":[0,1.236],"nice":false}}}},
  {"mark":{"type":"text","text":"P=0.04","fontSize":5.5,"align":"left","baseline":"middle","dx":13},"encoding":{"x":{"datum":"IGH","type":"nominal","scale":{"type":"point","padding":0.5,"domain":["IGH","non"]},"axis":null},"y":{"datum":0.54,"scale":{"domain":[0,1.236],"nice":false}}}},
  {"mark":{"type":"text","text":"P=0.005","fontSize":5.5,"align":"left","baseline":"middle","dx":13},"encoding":{"x":{"datum":"IGH","type":"nominal","scale":{"type":"point","padding":0.5,"domain":["IGH","non"]},"axis":null},"y":{"datum":0.2,"scale":{"domain":[0,1.236],"nice":false}}}},
  {"data":{"name":"cpart"},"mark":{"type":"text","fontSize":9,"baseline":"middle","dy":14},"encoding":{"x":{"field":"partner","type":"nominal","scale":{"type":"point","padding":0.5,"domain":["IGH","non"]},"axis":null},"y":{"datum":0,"scale":{"domain":[0,1.236],"nice":false}},"text":{"field":"l1"}}},
  {"data":{"name":"cpart"},"mark":{"type":"text","fontSize":9,"baseline":"middle","dy":24.5},"encoding":{"x":{"field":"partner","type":"nominal","scale":{"type":"point","padding":0.5,"domain":["IGH","non"]},"axis":null},"y":{"datum":0,"scale":{"domain":[0,1.236],"nice":false}},"text":{"field":"l2"}}}
 ]},
 {"width":95,"height":179,"layer":[
  {"data":{"name":"clegend"},"mark":{"type":"point","shape":"square","size":100,"filled":true,"opacity":1,"stroke":"#7f7f7f","strokeWidth":0.5},"encoding":{"x":{"datum":0.04,"scale":{"domain":[0,1],"nice":false,"zero":false},"axis":null},"y":{"field":"item","type":"nominal","scale":{"type":"point","padding":1.106,"domain":["WT","other","P57"]},"axis":null},"color":{"field":"item","type":"nominal","scale":{"domain":["WT","other","P57"],"range":["#9bbb59","#ffc000","#c0202a"]},"legend":null}}},
  {"data":{"name":"clegend"},"mark":{"type":"text","fontSize":11,"align":"left","baseline":"top","dy":-6.5,"lineBreak":"\n","lineHeight":16},"encoding":{"x":{"datum":0.13,"scale":{"domain":[0,1],"nice":false,"zero":false},"axis":null},"y":{"field":"item","type":"nominal","scale":{"type":"point","padding":1.106,"domain":["WT","other","P57"]},"axis":null},"text":{"field":"label"},"color":{"condition":{"test":"datum.item=='P57'","value":"#f03c3c"},"value":"#1a1a1a"}}}
 ]},
 {"width":160,"height":170,"layer":[
  {"data":{"name":"vsets"},"transform":[{"filter":"datum.venn=='V3' && datum.set=='MHG'"}],"mark":{"type":"point","shape":"circle","size":10404,"filled":true,"fill":"#c9b8e0","fillOpacity":0.45,"stroke":"#7f7f7f","strokeWidth":0.8,"opacity":1},"encoding":{"x":{"datum":5.4,"scale":{"domain":[0,16],"nice":false,"zero":false},"axis":null},"y":{"datum":8.0,"scale":{"domain":[0,17],"nice":false,"zero":false,"reverse":true},"axis":null}}},
  {"data":{"name":"vsets"},"transform":[{"filter":"datum.venn=='V3' && datum.set=='MYC mutation (P57-T58-P59)'"}],"mark":{"type":"point","shape":"circle","size":10816,"filled":true,"fill":"#e8a9a9","fillOpacity":0.45,"stroke":"#7f7f7f","strokeWidth":0.8,"opacity":1},"encoding":{"x":{"datum":10.2,"scale":{"domain":[0,16],"nice":false,"zero":false},"axis":null},"y":{"datum":7.7,"scale":{"domain":[0,17],"nice":false,"zero":false,"reverse":true},"axis":null}}},
  {"data":{"name":"vsets"},"transform":[{"filter":"datum.venn=='V3' && datum.set=='MYC-IG tr'"}],"mark":{"type":"point","shape":"circle","size":10404,"filled":true,"fill":"#bfe0c4","fillOpacity":0.45,"stroke":"#7f7f7f","strokeWidth":0.8,"opacity":1},"encoding":{"x":{"datum":7.7,"scale":{"domain":[0,16],"nice":false,"zero":false},"axis":null},"y":{"datum":11.8,"scale":{"domain":[0,17],"nice":false,"zero":false,"reverse":true},"axis":null}}},
  {"data":{"name":"venn3"},"transform":[{"filter":"datum.region=='MHG only'"}],"mark":{"type":"text","fontSize":11.5,"baseline":"middle"},"encoding":{"x":{"datum":2.5,"scale":{"domain":[0,16],"nice":false,"zero":false},"axis":null},"y":{"datum":6.0,"scale":{"domain":[0,17],"nice":false,"zero":false,"reverse":true},"axis":null},"text":{"field":"n"}}},
  {"data":{"name":"venn3"},"transform":[{"filter":"datum.region=='MHG & mutation'"}],"mark":{"type":"text","fontSize":11.5,"baseline":"middle"},"encoding":{"x":{"datum":7.6,"scale":{"domain":[0,16],"nice":false,"zero":false},"axis":null},"y":{"datum":6.0,"scale":{"domain":[0,17],"nice":false,"zero":false,"reverse":true},"axis":null},"text":{"field":"n"}}},
  {"data":{"name":"venn3"},"transform":[{"filter":"datum.region=='MHG & IG tr'"}],"mark":{"type":"text","fontSize":11.5,"baseline":"middle"},"encoding":{"x":{"datum":3.9,"scale":{"domain":[0,16],"nice":false,"zero":false},"axis":null},"y":{"datum":10.6,"scale":{"domain":[0,17],"nice":false,"zero":false,"reverse":true},"axis":null},"text":{"field":"n"}}},
  {"data":{"name":"venn3"},"transform":[{"filter":"datum.region=='all three'"}],"mark":{"type":"text","fontSize":11.5,"fontWeight":"bold","baseline":"middle"},"encoding":{"x":{"datum":7.9,"scale":{"domain":[0,16],"nice":false,"zero":false},"axis":null},"y":{"datum":10.6,"scale":{"domain":[0,17],"nice":false,"zero":false,"reverse":true},"axis":null},"text":{"field":"n"}}},
  {"data":{"name":"venn3"},"transform":[{"filter":"datum.region=='mutation & IG tr'"}],"mark":{"type":"text","fontSize":11.5,"baseline":"middle"},"encoding":{"x":{"datum":11.5,"scale":{"domain":[0,16],"nice":false,"zero":false},"axis":null},"y":{"datum":10.6,"scale":{"domain":[0,17],"nice":false,"zero":false,"reverse":true},"axis":null},"text":{"field":"n"}}},
  {"data":{"name":"venn3"},"transform":[{"filter":"datum.region=='IG tr only'"}],"mark":{"type":"text","fontSize":11.5,"baseline":"middle"},"encoding":{"x":{"datum":7.9,"scale":{"domain":[0,16],"nice":false,"zero":false},"axis":null},"y":{"datum":14.5,"scale":{"domain":[0,17],"nice":false,"zero":false,"reverse":true},"axis":null},"text":{"field":"n"}}},
  {"mark":{"type":"text","text":"MHG","fontSize":10.5,"baseline":"middle"},"encoding":{"x":{"datum":1.6,"scale":{"domain":[0,16],"nice":false,"zero":false},"axis":null},"y":{"datum":2.8,"scale":{"domain":[0,17],"nice":false,"zero":false,"reverse":true},"axis":null}}},
  {"mark":{"type":"text","text":"MYC","fontSize":10.5,"fontStyle":"italic","color":"#f03c3c","align":"right","baseline":"middle","dx":-9.5},"encoding":{"x":{"datum":10.9,"scale":{"domain":[0,16],"nice":false,"zero":false},"axis":null},"y":{"datum":1.1,"scale":{"domain":[0,17],"nice":false,"zero":false,"reverse":true},"axis":null}}},
  {"mark":{"type":"text","text":"mutation","fontSize":10.5,"color":"#f03c3c","align":"left","baseline":"middle","dx":-6.7},"encoding":{"x":{"datum":10.9,"scale":{"domain":[0,16],"nice":false,"zero":false},"axis":null},"y":{"datum":1.1,"scale":{"domain":[0,17],"nice":false,"zero":false,"reverse":true},"axis":null}}},
  {"mark":{"type":"text","text":"(P57-T58-P59)","fontSize":8.5,"color":"#f03c3c","baseline":"middle"},"encoding":{"x":{"datum":10.9,"scale":{"domain":[0,16],"nice":false,"zero":false},"axis":null},"y":{"datum":2.3,"scale":{"domain":[0,17],"nice":false,"zero":false,"reverse":true},"axis":null}}},
  {"mark":{"type":"text","text":"MYC","fontSize":10.5,"fontStyle":"italic","align":"right","baseline":"middle"},"encoding":{"x":{"datum":7.9,"scale":{"domain":[0,16],"nice":false,"zero":false},"axis":null},"y":{"datum":18.1,"scale":{"domain":[0,17],"nice":false,"zero":false,"reverse":true},"axis":null}}},
  {"mark":{"type":"text","text":"-IG tr","fontSize":10.5,"align":"left","baseline":"middle"},"encoding":{"x":{"datum":7.9,"scale":{"domain":[0,16],"nice":false,"zero":false},"axis":null},"y":{"datum":18.1,"scale":{"domain":[0,17],"nice":false,"zero":false,"reverse":true},"axis":null}}}
 ]}
],"spacing":9,"bounds":"flush","resolve":{"scale":{"color":"independent"}}}
]
}
